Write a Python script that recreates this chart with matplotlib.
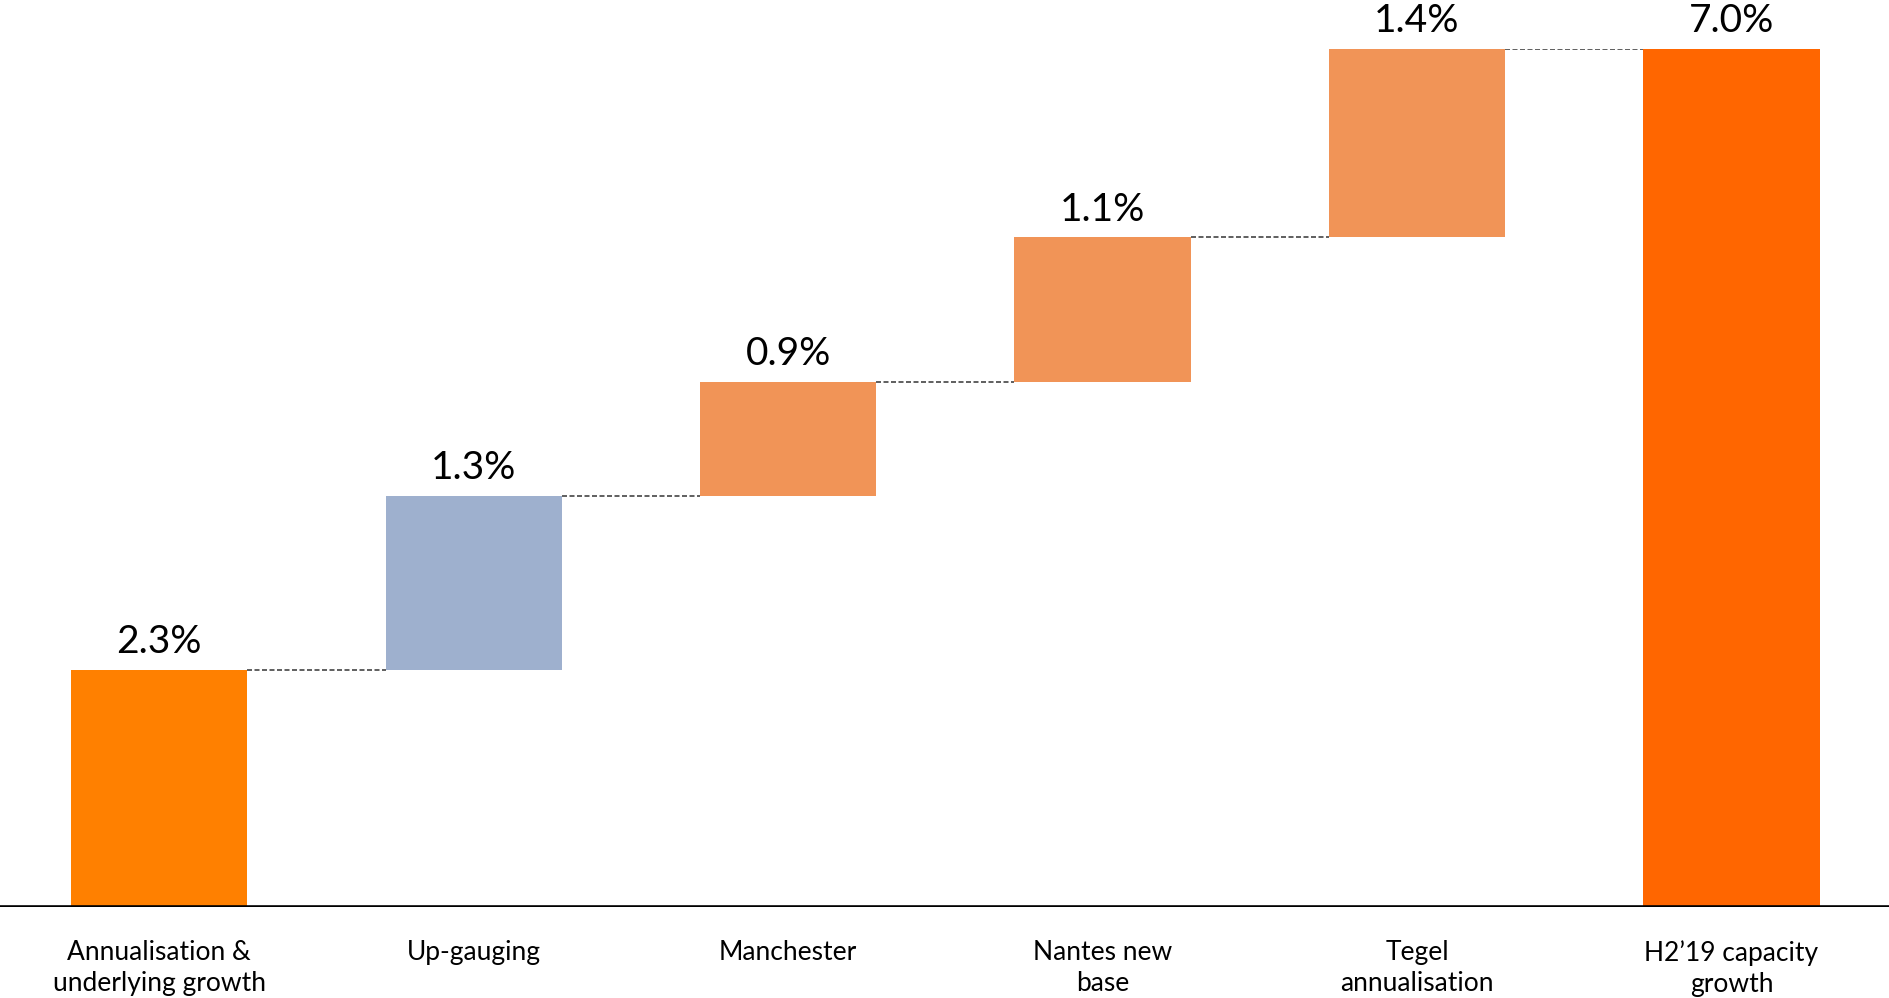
import numpy as np
import matplotlib
matplotlib.use("Agg")
import matplotlib.pyplot as plt

plt.rcParams['font.family'] = ['Lato', 'DejaVu Sans']

# data
categories = ["Annualisation &\nunderlying growth", "Up-gauging", "Manchester",
              "Nantes new\nbase", "Tegel\nannualisation", "H2\u201919 capacity\ngrowth"]
shown_values = [2.3, 1.3, 0.9, 1.1, 1.4, 7.0]
# the steps as drawn (the slide is not exactly to scale)
drawn_steps = [1.94, 1.42, 0.93, 1.18, 1.54]

colors = ['#FF8000', '#9EB0CE', '#F19457', '#F19457', '#F19457', '#FF6600']

total = sum(drawn_steps)
bottoms = np.concatenate([[0], np.cumsum(drawn_steps)[:-1], [0]])
heights = np.concatenate([drawn_steps, [total]])
tops = bottoms + heights

fig = plt.figure(figsize=(18.9, 9.98), dpi=100)
ax = fig.add_axes([0, 0.0912, 1, 0.8597])

BAR_W = 0.56
x = np.arange(len(categories))
ax.bar(x, heights, BAR_W, bottom=bottoms, color=colors, zorder=2)

# dashed connectors between bars
for i in range(len(x) - 1):
    ax.plot([x[i] + BAR_W / 2, x[i + 1] - BAR_W / 2], [tops[i], tops[i]],
            color='#444444', lw=1.2, ls=(0, (3, 1.5)), zorder=1)

# value labels
for i in range(len(x)):
    ax.annotate(f"{shown_values[i]:.1f}%", (x[i], tops[i]), xytext=(0, 7),
                textcoords='offset points', ha='center', va='bottom',
                fontsize=28, color='black', annotation_clip=False)

# category labels
for i in range(len(x)):
    ax.annotate(categories[i], (x[i], 0), xytext=(0, -24),
                textcoords='offset points', ha='center', va='top',
                fontsize=19, color='black', linespacing=1.3,
                annotation_clip=False)

ax.set_xlim(-0.506, 5.504)
ax.set_ylim(0, total)
ax.axhline(0, color='black', lw=2.6, zorder=3)

for spine in ax.spines.values():
    spine.set_visible(False)
ax.set_xticks([])
ax.set_yticks([])

fig.savefig('out.png', dpi=100)
